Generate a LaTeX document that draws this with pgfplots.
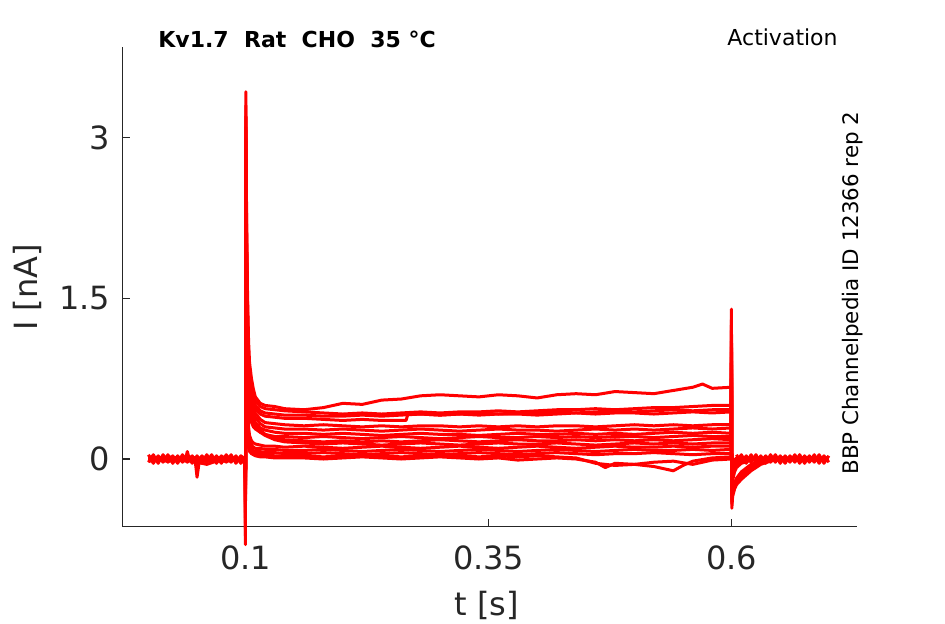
\documentclass[border=0pt]{standalone}
\usepackage{fontspec}
\setmainfont{DejaVu Sans}
\usepackage{pgfplots}
\pgfplotsset{compat=1.18}
\definecolor{axgray}{RGB}{38,38,38}
\pgfplotsset{tr/.style={color=red, line width=1.5pt, line join=round}}
\begin{document}
\begin{tikzpicture}[x=1pt,y=1pt]
\path[use as bounding box] (0,0) rectangle (472.5,312);
\begin{axis}[at={(61.35pt,48.65pt)}, anchor=south west, scale only axis,
  width=367.15pt, height=240pt,
  xmin=-0.0265, xmax=0.729, ymin=-0.632, ymax=3.85,
  axis x line*=bottom, axis y line*=left,
  axis line style={axgray, line width=0.6pt},
  tick align=inside, major tick length=3.75pt,
  tick style={axgray, line width=0.6pt},
  xtick={0.1,0.35,0.6}, xticklabels={0.1,0.35,0.6},
  ytick={0,1.5,3}, yticklabels={0,1.5,3},
  ticklabel style={font=\fontsize{16}{19}\selectfont, text=axgray},
  xticklabel style={yshift=-5.9pt},
  yticklabel style={xshift=-2.7pt},
  /pgf/number format/assume math mode=true,
  clip=false]
% noise baselines
\addplot[tr] coordinates {(0,.04)(.005,-.04)(.01,.03)(.015,-.03)(.02,.04)(.025,-.04)(.03,.03)(.035,-.03)(.04,.04)(.045,-.04)(.05,.03)(.055,-.04)(.06,.04)(.065,-.03)(.07,.03)(.075,-.04)(.08,.04)(.085,-.03)(.09,.03)(.095,-.04)(.0995,.01)};
\addplot[tr] coordinates {(0,-.03)(.005,.04)(.01,-.04)(.015,.04)(.02,-.03)(.025,.03)(.03,-.04)(.035,.04)(.04,-.03)(.045,.03)(.05,-.04)(.055,.03)(.06,-.03)(.065,.04)(.07,-.04)(.075,.03)(.08,-.03)(.085,.04)(.09,-.04)(.095,.03)(.0995,0)};
\addplot[tr] coordinates {(.605,.04)(.61,-.04)(.615,.03)(.62,-.03)(.625,.04)(.63,-.04)(.635,.03)(.64,-.03)(.645,.04)(.65,-.04)(.655,.03)(.66,-.03)(.665,.04)(.67,-.04)(.675,.03)(.68,-.03)(.685,.04)(.69,-.04)(.695,.03)(.70,-.03)};
\addplot[tr] coordinates {(.605,-.03)(.61,.04)(.615,-.04)(.62,.04)(.625,-.03)(.63,.03)(.635,-.04)(.64,.04)(.645,-.03)(.65,.03)(.655,-.04)(.66,.03)(.665,-.03)(.67,.04)(.675,-.04)(.68,.03)(.685,-.03)(.69,.04)(.695,-.04)(.70,.03)};
% T1
\addplot[tr] coordinates {(0,.01)(.02,-.01)(.04,.02)(.06,0)(.08,.01)(.0995,0)
(.0998,-.80)(.1002,3.43)(.101,2.2)(.102,1.5)(.103,1.1)(.104,.9)(.106,.75)(.108,.65)(.110,.58)(.115,.52)(.120,.50)(.130,.49)(.140,.47)
(.16,.46)(.18,.48)(.20,.52)(.22,.51)(.24,.55)(.26,.56)(.28,.59)(.30,.60)(.32,.59)(.34,.58)(.36,.60)(.38,.59)(.40,.57)(.42,.60)(.44,.61)(.46,.60)(.48,.63)(.50,.62)(.52,.61)(.54,.64)(.56,.67)(.57,.70)(.58,.66)(.5995,.67)
(.5998,1.40)(.6002,-.46)(.601,-.35)(.603,-.28)(.605,-.24)(.61,-.19)(.62,-.11)(.63,-.05)(.64,-.02)
(.65,0)(.675,.01)(.70,-.01)};
% T2
\addplot[tr] coordinates {(0,-.01)(.02,.01)(.04,0)(.06,-.02)(.08,0)(.0995,.01)
(.0998,-.72)(.1002,3.3)(.101,2.1)(.102,1.4)(.103,1.0)(.104,.82)(.106,.68)(.108,.60)(.110,.54)(.115,.49)(.120,.47)(.130,.46)(.140,.45)
(.16,.44)(.18,.43)(.20,.42)(.22,.43)(.24,.42)(.26,.43)(.28,.44)(.30,.43)(.32,.44)(.34,.44)(.36,.45)(.38,.44)(.40,.45)(.42,.46)(.44,.46)(.46,.47)(.48,.46)(.50,.47)(.52,.48)(.54,.48)(.56,.49)(.58,.50)(.5995,.50)
(.5998,1.30)(.6002,-.42)(.601,-.33)(.603,-.27)(.605,-.23)(.61,-.17)(.62,-.09)(.63,-.04)(.64,-.01)
(.65,.01)(.675,-.01)(.70,0)};
% T3
\addplot[tr] coordinates {(0,0)(.02,.02)(.04,-.01)(.06,.01)(.08,-.01)(.0995,0)
(.0998,-.65)(.1002,3.2)(.101,2.0)(.102,1.3)(.103,.95)(.104,.78)(.106,.64)(.108,.56)(.110,.50)(.115,.45)(.120,.43)(.130,.42)(.140,.41)
(.16,.41)(.18,.40)(.20,.40)(.22,.41)(.24,.40)(.26,.41)(.28,.42)(.30,.41)(.32,.42)(.34,.43)(.36,.42)(.38,.43)(.40,.43)(.42,.44)(.44,.43)(.46,.44)(.48,.45)(.50,.44)(.52,.45)(.54,.46)(.56,.45)(.58,.46)(.5995,.46)
(.5998,1.25)(.6002,-.40)(.601,-.30)(.603,-.24)(.605,-.20)(.61,-.14)(.62,-.07)(.63,-.03)(.64,0)
(.65,-.01)(.675,.01)(.70,.01)};
% T4
\addplot[tr] coordinates {(0,.02)(.02,0)(.04,.01)(.06,-.01)(.08,.02)(.0995,-.01)
(.0998,-.6)(.1002,3.1)(.101,1.9)(.102,1.2)(.103,.9)(.104,.74)(.106,.6)(.108,.52)(.110,.47)(.115,.42)(.120,.40)(.130,.39)(.140,.38)
(.16,.38)(.18,.37)(.20,.36)(.22,.37)(.24,.36)(.26,.36)(.265,.36)(.267,.42)(.28,.42)(.30,.41)(.32,.42)(.34,.41)(.36,.42)(.38,.42)(.40,.41)(.42,.42)(.44,.43)(.46,.42)(.48,.43)(.50,.43)(.52,.42)(.54,.43)(.56,.44)(.58,.43)(.5995,.44)
(.5998,1.2)(.6002,-.38)(.601,-.28)(.603,-.22)(.605,-.18)(.61,-.12)(.62,-.05)(.63,-.02)(.64,0)
(.65,.01)(.675,0)(.70,-.01)};
% T5
\addplot[tr] coordinates {(0,-.02)(.02,.01)(.04,-.01)(.06,.02)(.08,-.01)(.0995,.01)
(.0998,-.55)(.1002,3.0)(.101,1.8)(.102,1.15)(.103,.85)(.104,.70)(.106,.56)(.108,.48)(.110,.43)(.115,.37)(.120,.34)(.130,.33)(.140,.32)
(.16,.31)(.18,.32)(.20,.31)(.22,.30)(.24,.31)(.26,.30)(.28,.31)(.30,.31)(.32,.30)(.34,.31)(.36,.30)(.38,.31)(.40,.30)(.42,.31)(.44,.31)(.46,.30)(.48,.31)(.50,.32)(.52,.31)(.54,.32)(.56,.31)(.58,.32)(.5995,.32)
(.5998,1.1)(.6002,-.34)(.601,-.2)(.603,-.12)(.605,-.08)(.61,-.04)(.62,-.01)(.63,0)(.64,.01)
(.65,-.01)(.675,0)(.70,.01)};
% T6
\addplot[tr] coordinates {(0,.01)(.02,-.02)(.04,.01)(.06,0)(.08,-.02)(.0995,0)
(.0998,-.5)(.1002,2.9)(.101,1.7)(.102,1.1)(.103,.8)(.104,.66)(.106,.52)(.108,.44)(.110,.39)(.115,.33)(.120,.30)(.130,.29)(.140,.28)
(.16,.28)(.18,.27)(.20,.28)(.22,.27)(.24,.26)(.26,.27)(.28,.28)(.30,.27)(.32,.26)(.34,.27)(.36,.28)(.38,.27)(.40,.27)(.42,.26)(.44,.27)(.46,.28)(.48,.27)(.50,.28)(.52,.27)(.54,.28)(.56,.29)(.58,.28)(.5995,.29)
(.5998,1.05)(.6002,-.3)(.601,-.16)(.603,-.1)(.605,-.06)(.61,-.03)(.62,-.01)(.63,.01)(.64,0)
(.65,.01)(.675,-.01)(.70,0)};
% T7
\addplot[tr] coordinates {(0,0)(.02,.01)(.04,-.02)(.06,.01)(.08,0)(.0995,-.01)
(.0998,-.45)(.1002,2.8)(.101,1.6)(.102,1.0)(.103,.74)(.104,.6)(.106,.47)(.108,.39)(.110,.34)(.115,.29)(.120,.27)(.130,.25)(.140,.24)
(.16,.24)(.18,.23)(.20,.24)(.22,.23)(.24,.22)(.26,.23)(.28,.24)(.30,.23)(.32,.23)(.34,.22)(.36,.23)(.38,.24)(.40,.23)(.42,.23)(.44,.24)(.46,.23)(.48,.24)(.50,.23)(.52,.24)(.54,.25)(.56,.24)(.58,.25)(.5995,.24)
(.5998,1.0)(.6002,-.28)(.601,-.14)(.603,-.08)(.605,-.05)(.61,-.02)(.62,0)(.63,-.01)(.64,.01)
(.65,0)(.675,.01)(.70,-.01)};
% T8
\addplot[tr] coordinates {(0,.01)(.02,0)(.04,.02)(.06,-.01)(.08,.01)(.0995,0)
(.0998,-.42)(.1002,2.7)(.101,1.5)(.102,.95)(.103,.68)(.104,.55)(.106,.42)(.108,.34)(.110,.30)(.115,.25)(.120,.23)(.130,.21)(.140,.21)
(.16,.20)(.18,.21)(.20,.20)(.22,.19)(.24,.20)(.26,.21)(.28,.20)(.30,.19)(.32,.20)(.34,.21)(.36,.20)(.38,.20)(.40,.21)(.42,.20)(.44,.21)(.46,.20)(.48,.21)(.50,.21)(.52,.20)(.54,.21)(.56,.22)(.58,.21)(.5995,.21)
(.5998,.95)(.6002,-.25)(.601,-.12)(.603,-.07)(.605,-.04)(.61,-.02)(.62,0)(.63,.01)(.64,0)
(.65,-.01)(.675,0)(.70,.01)};
% T9
\addplot[tr] coordinates {(0,-.01)(.02,.02)(.04,0)(.06,.01)(.08,-.01)(.0995,.01)
(.0998,-.4)(.1002,2.6)(.101,1.4)(.102,.9)(.103,.66)(.104,.55)(.106,.45)(.108,.38)(.110,.33)(.115,.27)(.120,.23)(.130,.19)(.140,.18)
(.16,.17)(.18,.16)(.20,.17)(.22,.16)(.24,.17)(.26,.16)(.28,.17)(.30,.18)(.32,.17)(.34,.16)(.36,.17)(.38,.18)(.40,.17)(.42,.17)(.44,.18)(.46,.17)(.48,.18)(.50,.17)(.52,.18)(.54,.17)(.56,.18)(.58,.19)(.5995,.18)
(.5998,.9)(.6002,-.22)(.601,-.1)(.603,-.05)(.605,-.03)(.61,-.01)(.62,.01)(.63,0)(.64,-.01)
(.65,.01)(.675,-.01)(.70,0)};
% T10
\addplot[tr] coordinates {(0,.02)(.02,-.01)(.04,.01)(.06,-.02)(.08,.01)(.0995,0)
(.0998,-.38)(.1002,2.5)(.101,1.2)(.102,.7)(.103,.48)(.104,.4)(.106,.34)(.108,.30)(.110,.28)(.115,.25)(.120,.22)(.130,.18)(.140,.16)
(.16,.15)(.18,.14)(.20,.15)(.22,.14)(.24,.13)(.26,.14)(.28,.15)(.30,.14)(.32,.13)(.34,.14)(.36,.15)(.38,.14)(.40,.14)(.42,.15)(.44,.14)(.46,.13)(.48,.14)(.50,.15)(.52,.14)(.54,.15)(.56,.14)(.58,.15)(.5995,.15)
(.5998,.85)(.6002,-.2)(.601,-.08)(.603,-.04)(.605,-.02)(.61,0)(.62,.01)(.63,-.01)(.64,0)
(.65,0)(.675,.01)(.70,0)};
% T11
\addplot[tr] coordinates {(0,0)(.02,-.01)(.04,.01)(.06,0)(.08,.02)(.0995,-.01)
(.0998,-.35)(.1002,2.2)(.101,1.0)(.102,.5)(.103,.3)(.104,.22)(.106,.17)(.108,.15)(.110,.14)(.115,.13)(.120,.12)(.130,.12)(.140,.11)
(.16,.12)(.18,.11)(.20,.10)(.22,.11)(.24,.12)(.26,.11)(.28,.10)(.30,.11)(.32,.12)(.34,.11)(.36,.10)(.38,.11)(.40,.12)(.42,.11)(.44,.10)(.46,.11)(.48,.12)(.50,.11)(.52,.11)(.54,.12)(.56,.11)(.58,.12)(.5995,.12)
(.5998,.8)(.6002,-.18)(.601,-.07)(.603,-.03)(.605,-.01)(.61,0)(.62,-.01)(.63,.01)(.64,0)
(.65,.01)(.675,0)(.70,-.01)};
% T12
\addplot[tr] coordinates {(0,-.01)(.02,0)(.04,-.02)(.06,.01)(.08,0)(.0995,.01)
(.0998,-.32)(.1002,2.0)(.101,.9)(.102,.42)(.103,.24)(.104,.17)(.106,.13)(.108,.11)(.110,.10)(.115,.10)(.120,.09)(.130,.09)(.140,.08)
(.16,.08)(.18,.09)(.20,.08)(.22,.07)(.24,.08)(.26,.09)(.28,.08)(.30,.07)(.32,.08)(.34,.09)(.36,.08)(.38,.07)(.40,.08)(.42,.09)(.44,.08)(.46,.07)(.48,.08)(.50,.09)(.52,.08)(.54,.08)(.56,.09)(.58,.08)(.5995,.09)
(.5998,.75)(.6002,-.15)(.601,-.05)(.603,-.02)(.605,0)(.61,.01)(.62,0)(.63,-.01)(.64,.01)
(.65,0)(.675,-.01)(.70,.01)};
% T13
\addplot[tr] coordinates {(0,.01)(.02,.01)(.038,0)(.04,.07)(.042,0)(.06,-.01)(.08,.01)(.0995,0)
(.0998,-.3)(.1002,1.8)(.101,.8)(.102,.36)(.103,.2)(.104,.13)(.106,.1)(.108,.08)(.110,.07)(.115,.07)(.120,.06)(.130,.06)(.140,.05)
(.16,.05)(.18,.06)(.20,.05)(.22,.04)(.24,.05)(.26,.06)(.28,.05)(.30,.04)(.32,.05)(.34,.06)(.36,.05)(.38,.04)(.40,.05)(.42,.06)(.44,.05)(.46,.04)(.48,.05)(.50,.05)(.52,.06)(.54,.05)(.56,.04)(.58,.05)(.5995,.05)
(.5998,.7)(.6002,-.14)(.601,-.05)(.603,-.02)(.605,0)(.61,-.01)(.62,.01)(.63,0)(.64,-.01)
(.65,.01)(.675,0)(.70,0)};
% T14
\addplot[tr] coordinates {(0,0)(.02,-.02)(.04,0)(.048,-.01)(.05,-.17)(.052,-.04)(.06,-.01)(.08,-.02)(.0995,0)
(.0998,-.28)(.1002,1.6)(.101,.7)(.102,.3)(.103,.15)(.104,.09)(.106,.07)(.108,.05)(.110,.05)(.115,.04)(.120,.04)(.130,.03)(.140,.03)
(.16,.03)(.18,.02)(.20,.03)(.22,.04)(.24,.03)(.26,.02)(.28,.03)(.30,.04)(.32,.03)(.34,.02)(.36,.03)(.38,.02)(.40,.03)(.42,.02)(.44,.01)(.46,-.04)(.48,-.06)(.50,-.05)(.52,-.07)(.54,-.11)(.55,-.06)(.56,-.02)(.58,.01)(.5995,.02)
(.5998,.65)(.6002,-.13)(.601,-.04)(.603,-.01)(.605,0)(.61,.01)(.62,-.01)(.63,0)(.64,.01)
(.65,-.01)(.675,.01)(.70,0)};
% T15
\addplot[tr] coordinates {(0,-.02)(.02,0)(.04,-.01)(.06,-.05)(.07,-.02)(.08,0)(.0995,-.01)
(.0998,-.25)(.1002,1.4)(.101,.6)(.102,.25)(.103,.12)(.104,.07)(.106,.05)(.108,.04)(.110,.03)(.115,.02)(.120,.02)(.130,.01)(.140,.01)
(.16,.01)(.18,0)(.20,.01)(.22,.02)(.24,.01)(.26,0)(.28,.01)(.30,.02)(.32,.01)(.34,0)(.36,.01)(.38,-.01)(.40,0)(.42,.01)(.44,0)(.46,-.03)(.47,-.08)(.48,-.04)(.50,-.05)(.52,-.03)(.54,-.02)(.56,-.05)(.58,-.01)(.5995,0)
(.5998,.6)(.6002,-.12)(.601,-.03)(.603,-.01)(.605,.01)(.61,0)(.62,.01)(.63,-.01)(.64,0)
(.65,.01)(.675,-.01)(.70,0)};
\end{axis}
\node[anchor=base, font=\fontsize{16}{19}\selectfont, text=axgray] at (243.5,4.1) {t [s]};
\node[anchor=base, rotate=90, font=\fontsize{16}{19}\selectfont, text=axgray] at (18.65,168.25) {I [nA]};
\node[anchor=base west, inner sep=0pt, font=\fontsize{11}{13}\selectfont\bfseries] at (79,288.35) {Kv1.7\ \ Rat\ \ CHO\ \ 35 °C};
\node[anchor=base east, inner sep=0pt, font=\fontsize{11}{13}\selectfont] at (419,289.2) {Activation};
\node[anchor=base west, inner sep=0pt, rotate=90, font=\fontsize{10.7}{13}\selectfont] at (429,74.5) {BBP Channelpedia ID 12366 rep 2};
\end{tikzpicture}
\end{document}
